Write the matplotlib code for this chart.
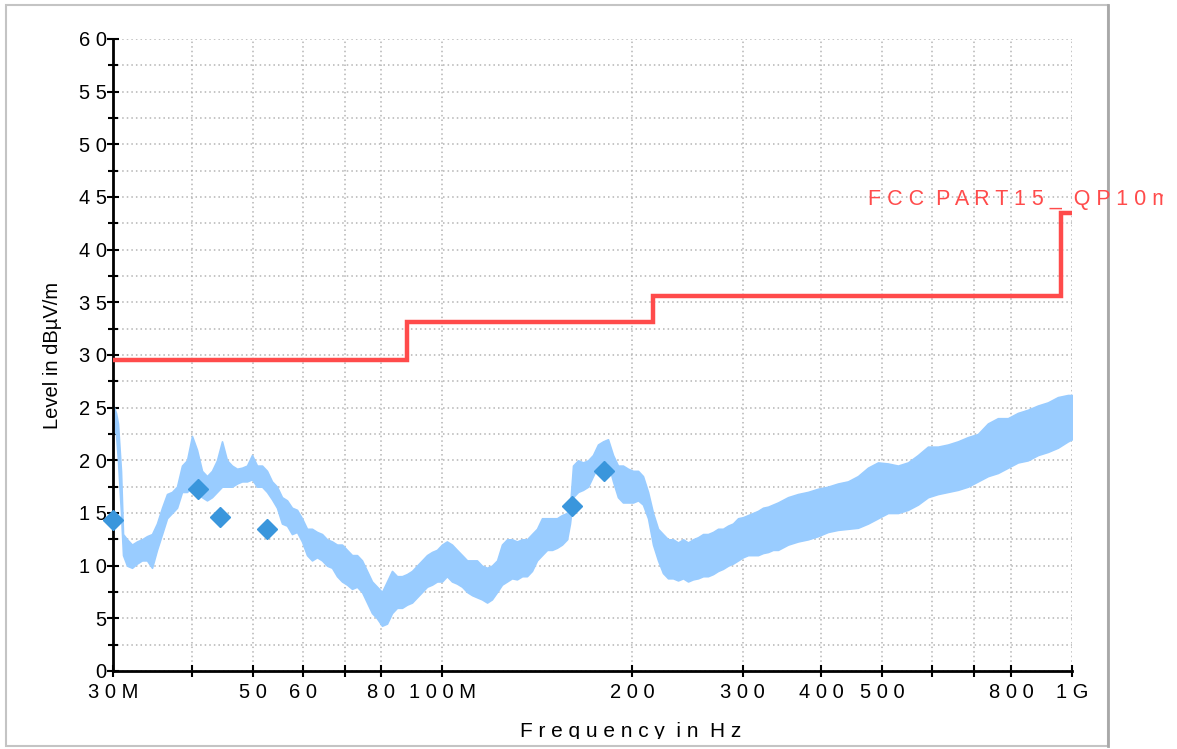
import matplotlib
matplotlib.use("Agg")
import matplotlib.pyplot as plt
from matplotlib.ticker import FixedLocator, NullLocator, MultipleLocator
from matplotlib.transforms import Bbox, TransformedBbox
from matplotlib.patches import Rectangle

plt.rcParams['font.family'] = ['Liberation Sans', 'DejaVu Sans']

# Pre-scan trace (envelope of the peak detector sweep), frequency in MHz, level in dBuV/m
trace_freq = [30.0, 30.33, 30.55, 30.89, 31.12, 31.58, 32.16, 32.75, 33.35, 33.97,
              34.60, 35.23, 35.89, 36.55, 37.22, 37.91, 38.61, 39.32, 40.05, 40.78,
              41.54, 42.30, 43.08, 43.88, 44.69, 45.51, 46.35, 47.21, 48.08, 48.97,
              49.87, 50.79, 51.73, 52.68, 53.65, 54.64, 55.65, 56.68, 57.72, 58.79,
              59.87, 60.98, 62.10, 63.25, 64.42, 65.61, 66.82, 68.05, 69.30, 70.58,
              71.89, 73.21, 74.56, 75.94, 77.34, 78.77, 80.22, 81.70, 83.21, 84.74,
              86.31, 87.90, 89.52, 91.17, 92.86, 94.57, 96.32, 98.09, 99.90, 101.7,
              103.6, 105.5, 107.5, 109.5, 111.5, 113.5, 115.6, 117.8, 119.9, 122.2,
              124.4, 126.7, 129.0, 131.4, 133.9, 136.3, 138.8, 141.4, 144.0, 146.7,
              149.4, 152.1, 154.9, 157.8, 159.5, 161.3, 164.3, 167.3, 170.4, 173.5,
              176.7, 180.0, 183.3, 186.7, 190.1, 193.6, 197.2, 200.9, 204.6, 208.3,
              212.2, 216.1, 220.1, 224.1, 228.3, 232.5, 236.8, 241.2, 245.6, 250.1,
              254.8, 259.5, 264.2, 269.1, 274.1, 279.1, 284.3, 289.5, 294.9, 300.3,
              305.9, 311.5, 317.2, 323.1, 329.1, 335.1, 341.3, 354.0, 367.2, 380.8,
              395.0, 409.7, 425.0, 440.8, 457.2, 474.2, 491.9, 510.2, 529.2, 548.9,
              569.3, 590.5, 612.5, 635.3, 658.9, 683.4, 708.9, 735.3, 762.6, 791.0,
              820.5, 851.0, 882.7, 915.6, 949.6, 985.0, 1000.0]
trace_upper = [25.3, 24.5, 23.5, 19.0, 13.0, 12.5, 12.0, 12.3, 12.5, 12.8,
               13.0, 14.0, 15.5, 16.8, 17.0, 17.5, 19.5, 20.0, 22.3, 21.0,
               19.0, 18.5, 19.0, 20.0, 21.8, 20.0, 19.5, 19.2, 19.3, 19.5,
               20.5, 19.5, 19.5, 19.0, 18.0, 17.5, 16.5, 16.2, 15.5, 15.3,
               14.5, 13.5, 13.5, 13.2, 13.0, 12.5, 12.3, 12.0, 12.0, 11.5,
               11.0, 11.0, 10.5, 9.5, 8.5, 8.0, 7.5, 8.5, 9.5, 9.0,
               9.0, 9.2, 9.5, 10.0, 10.5, 11.0, 11.3, 11.5, 12.0, 12.3,
               12.0, 11.5, 11.0, 10.5, 10.5, 10.5, 10.0, 9.8, 10.0, 10.5,
               12.0, 12.5, 12.5, 12.3, 12.5, 12.5, 13.0, 13.5, 14.5, 14.5,
               14.5, 14.5, 14.8, 15.0, 15.5, 19.5, 20.0, 19.8, 20.0, 20.5,
               21.5, 21.8, 22.0, 20.5, 19.5, 19.5, 19.2, 19.0, 19.0, 18.5,
               17.0, 15.0, 13.5, 13.0, 12.5, 12.5, 12.2, 12.5, 12.2, 12.5,
               12.7, 13.0, 13.0, 13.2, 13.5, 13.5, 13.8, 14.0, 14.5, 14.6,
               14.8, 15.0, 15.2, 15.5, 15.6, 15.8, 16.0, 16.5, 16.8, 17.0,
               17.3, 17.5, 17.8, 18.0, 18.5, 19.3, 19.8, 19.7, 19.5, 19.8,
               20.5, 21.3, 21.3, 21.5, 21.8, 22.2, 22.5, 23.5, 24.0, 24.0,
               24.5, 24.8, 25.2, 25.5, 26.0, 26.2, 26.2]
trace_lower = [23.0, 22.5, 20.0, 15.0, 11.0, 10.0, 9.8, 10.2, 10.5, 10.5,
               9.8, 11.5, 13.0, 14.5, 15.0, 15.5, 17.0, 17.0, 17.5, 17.0,
               16.5, 16.2, 16.5, 17.0, 17.5, 17.5, 17.5, 17.8, 18.0, 18.0,
               18.2, 17.5, 17.5, 17.0, 16.3, 15.5, 14.0, 13.8, 13.0, 13.2,
               12.3, 11.0, 10.5, 10.8, 10.5, 10.0, 9.8, 9.0, 8.5, 8.2,
               7.8, 8.0, 7.5, 6.5, 5.5, 5.0, 4.3, 4.5, 5.5, 6.0,
               6.0, 6.3, 6.5, 7.0, 7.5, 8.0, 8.2, 8.5, 8.5, 9.0,
               8.5, 8.3, 8.0, 7.5, 7.2, 7.0, 6.8, 6.5, 6.8, 7.5,
               8.2, 8.5, 8.8, 8.7, 9.0, 9.0, 9.5, 10.5, 11.0, 11.5,
               11.5, 11.7, 12.0, 12.5, 14.0, 16.5, 17.0, 17.2, 17.5, 18.5,
               19.5, 19.8, 19.8, 18.0, 16.5, 16.0, 16.0, 16.0, 16.2, 15.8,
               14.5, 12.0, 10.5, 9.3, 8.8, 8.8, 8.6, 8.8, 8.5, 8.7,
               8.8, 9.0, 9.0, 9.2, 9.5, 9.7, 10.0, 10.2, 10.5, 10.8,
               11.0, 11.0, 11.0, 11.2, 11.3, 11.5, 11.5, 12.0, 12.3, 12.5,
               12.8, 13.2, 13.4, 13.5, 13.6, 14.0, 14.5, 15.0, 15.0, 15.3,
               15.8, 16.5, 16.8, 17.0, 17.2, 17.5, 18.0, 18.5, 18.8, 19.3,
               19.8, 20.0, 20.5, 20.8, 21.2, 21.8, 22.0]

# Final quasi-peak measurements
qp_freq = [30.0, 40.9, 44.4, 52.6, 160.5, 180.9]
qp_level = [14.3, 17.3, 14.6, 13.45, 15.7, 19.0]

# FCC Part 15 class B limit at 10 m (step edges)
limit_freq = [30.0, 88.0, 216.0, 960.0, 1000.0]
limit_level = [29.5, 33.1, 35.6, 43.5, 43.5]
limit_name = "F C C  P A R T 1 5 _  Q P 1 0 m"

x_ticks = [30, 40, 50, 60, 70, 80, 100, 200, 300, 400, 500, 600, 700, 800, 1000]
x_tick_labels = ["3 0 M", "", "5 0", "6 0", "", "8 0", "1 0 0 M", "2 0 0", "3 0 0",
                 "4 0 0", "5 0 0", "", "", "8 0 0", "1 G"]
y_ticks = list(range(0, 61, 5))
y_tick_labels = [" ".join(str(v)) for v in y_ticks]

TRACE = "#99CCFF"
MARK = "#3A96DC"
LIMIT = "#FF4B4B"
GRID = "#B4B4B4"

W, H = 1177, 749
fig = plt.figure(figsize=(W / 100, H / 100), dpi=100)
ax = fig.add_axes([113 / W, 1 - 671 / H, (1072 - 113) / W, (671 - 39) / H])

ax.set_xscale("log")
ax.set_xlim(30, 1000)
ax.set_ylim(0, 60)

ax.fill_between(trace_freq, trace_lower, trace_upper, color=TRACE, lw=1.2,
                edgecolor=TRACE, zorder=2)
ax.step(limit_freq, limit_level, where="post", color=LIMIT, lw=3.2, zorder=3,
        solid_joinstyle="miter")
ax.plot(qp_freq, qp_level, linestyle="none", marker="D", markersize=10.5,
        color=MARK, markeredgecolor=MARK, zorder=4, clip_on=False)

ax.xaxis.set_major_locator(FixedLocator(x_ticks))
ax.xaxis.set_minor_locator(NullLocator())
ax.set_xticklabels(x_tick_labels)
ax.yaxis.set_major_locator(FixedLocator(y_ticks))
ax.yaxis.set_minor_locator(MultipleLocator(2.5))
ax.set_yticklabels(y_tick_labels)

ax.grid(which="both", axis="y", color=GRID, linestyle=(0, (1, 2)), lw=1.1)
ax.grid(which="major", axis="x", color=GRID, linestyle=(0, (1, 2)), lw=1.1)
ax.set_axisbelow(True)

for side in ("top", "right"):
    ax.spines[side].set_visible(False)
for side in ("left", "bottom"):
    ax.spines[side].set_linewidth(2.0)
    ax.spines[side].set_color("black")

ax.tick_params(axis="both", which="major", direction="inout", length=9, width=1.5,
               labelsize=14.5, colors="black")
ax.tick_params(axis="y", which="minor", direction="inout", length=7, width=1.5)
ax.tick_params(axis="y", which="major", pad=0)
ax.tick_params(axis="x", which="major", pad=4)

ax.set_ylabel("Level in dBµV/m", fontsize=14.5, labelpad=12)

# Axis title along the bottom edge, cut off at the frame like the instrument export
xl = fig.text(631 / W, 1 - 737 / H, "F r e q u e n c y  i n  H z", ha="center",
              va="baseline", fontsize=15)
xl.set_clip_box(TransformedBbox(Bbox.from_extents(0, 1 - 738.5 / H, 1, 1), fig.transFigure))
xl.set_clip_on(True)

# Limit line name
ll = fig.text(868 / W, 1 - 205 / H, limit_name, ha="left", va="baseline",
              fontsize=15.5, color=LIMIT)
ll.set_clip_box(TransformedBbox(Bbox.from_extents(0, 0, 1163 / W, 1), fig.transFigure))
ll.set_clip_on(True)

# Outer frame
fig.patches.append(Rectangle((6 / W, 1 - 746 / H), (1108 - 6) / W, (746 - 5) / H,
                             transform=fig.transFigure, fill=False,
                             edgecolor="#C4C4C4", lw=1.5))
fig.lines.append(plt.Line2D([1108 / W, 1108 / W], [1 - 746 / H, 1 - 5 / H],
                            transform=fig.transFigure, color="#A8A8A8", lw=2.0))

fig.savefig("out.png", dpi=100, facecolor="white")
